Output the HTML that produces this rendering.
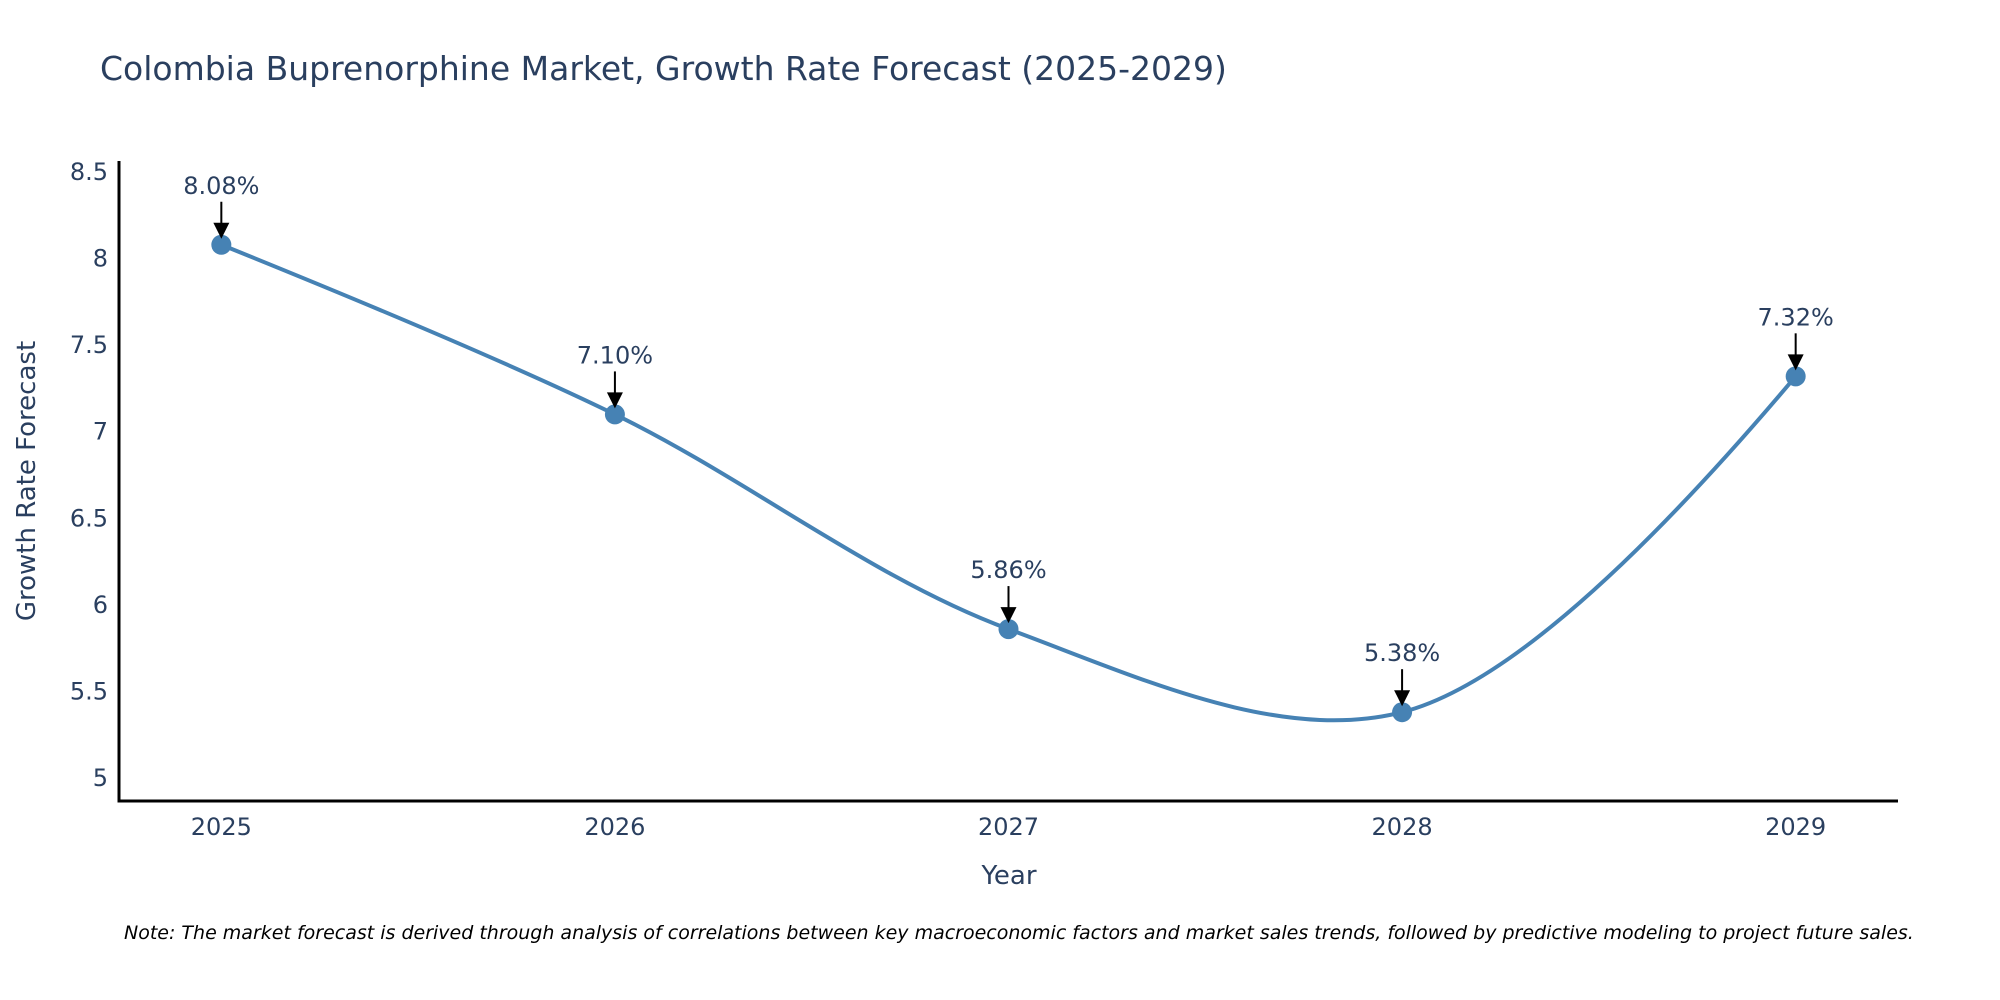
<!DOCTYPE html>
<html><head><meta charset="utf-8"><style>
html,body{margin:0;padding:0;background:#fff;}
svg{display:block;font-family:"DejaVu Sans","Liberation Sans",sans-serif;}
</style></head><body>
<svg id="chart" width="2000" height="1000" viewBox="0 0 2000 1000" xmlns="http://www.w3.org/2000/svg">
<rect width="2000" height="1000" fill="#fff"/>
<text x="100" y="80" font-size="33" fill="#2a3f5f">Colombia Buprenorphine Market, Growth Rate Forecast (2025-2029)</text>
<g id="yticks"></g><g id="xticks"></g>
<line x1="119" y1="161" x2="119" y2="802" stroke="#000" stroke-width="3"/>
<line x1="117.5" y1="801" x2="1898" y2="801" stroke="#000" stroke-width="3"/>
<text transform="translate(35,481) rotate(-90)" text-anchor="middle" font-size="26" fill="#2a3f5f">Growth Rate Forecast</text>
<text x="1009" y="884" text-anchor="middle" font-size="26" fill="#2a3f5f">Year</text>
<g id="series"></g>
<g id="annotations"></g>
<text x="124" y="939" font-size="19" font-style="italic" fill="#000">Note: The market forecast is derived through analysis of correlations between key macroeconomic factors and market sales trends, followed by predictive modeling to project future sales.</text>
</svg>
<script>
const years = [2025, 2026, 2027, 2028, 2029];
const growth = [8.08, 7.10, 5.86, 5.38, 7.32];
const yTicks = [5, 5.5, 6, 6.5, 7, 7.5, 8, 8.5];
const yTickLabels = ["5", "5.5", "6", "6.5", "7", "7.5", "8", "8.5"];

const NS = "http://www.w3.org/2000/svg";
const X0 = 119, X1 = 1898, XMIN = 2024.74, XMAX = 2029.26;
const Y0 = 801, Y1 = 162, YMIN = 4.867, YMAX = 8.558;
function xs(v){return X0 + (v - XMIN) / (XMAX - XMIN) * (X1 - X0);}
function ys(v){return Y0 - (v - YMIN) / (YMAX - YMIN) * (Y0 - Y1);}
function mk(tag, attrs, parent){const e=document.createElementNS(NS,tag);for(const k in attrs)e.setAttribute(k,attrs[k]);parent.appendChild(e);return e;}

const yg = document.getElementById('yticks');
yTicks.forEach((t,i)=>{
  const el = mk('text',{x:108,y:ys(t)+8,'text-anchor':'end','font-size':24,fill:'#2a3f5f'},yg);
  
  
  el.textContent = yTickLabels[i];
});
const xg = document.getElementById('xticks');
years.forEach(y=>{
  const el = mk('text',{x:xs(y),y:835,'text-anchor':'middle','font-size':24,fill:'#2a3f5f'},xg);
  
  
  el.textContent = String(y);
});

const pts = years.map((y,i)=>[xs(y), ys(growth[i])]);
function tangent(p0,p1,p2,s){
  const d1x=p0[0]-p1[0], d1y=p0[1]-p1[1], d2x=p2[0]-p1[0], d2y=p2[1]-p1[1];
  const d1a=Math.pow(d1x*d1x+d1y*d1y,0.25), d2a=Math.pow(d2x*d2x+d2y*d2y,0.25);
  const nx=(d2a*d2a*d1x-d1a*d1a*d2x)*s, ny=(d2a*d2a*d1y-d1a*d1a*d2y)*s;
  const den1=3*d2a*(d1a+d2a), den2=3*d1a*(d1a+d2a);
  return [[p1[0]+nx/den1,p1[1]+ny/den1],[p1[0]-nx/den2,p1[1]-ny/den2]];
}
const tg=[];
for(let i=1;i<pts.length-1;i++) tg.push(tangent(pts[i-1],pts[i],pts[i+1],1));
let d='M'+pts[0]+'Q'+tg[0][0]+' '+pts[1];
for(let i=2;i<pts.length-1;i++) d+='C'+tg[i-2][1]+' '+tg[i-1][0]+' '+pts[i];
d+='Q'+tg[tg.length-1][1]+' '+pts[pts.length-1];
const sg=document.getElementById('series');
const line = mk('path',{d:d,fill:'none',stroke:'#4682b4','stroke-width':4},sg);


pts.forEach(p=>{
  const c = mk('circle',{cx:p[0],cy:p[1],r:10,fill:'#4682b4'},sg);
  
  
});

const ag=document.getElementById('annotations');
pts.forEach((p,i)=>{
  const a = mk('line',{x1:p[0],y1:p[1]-43,x2:p[0],y2:p[1]-18,stroke:'#000','stroke-width':2},ag);
  
  
  const h = mk('polygon',{points:`${p[0]-8},${p[1]-22} ${p[0]+8},${p[1]-22} ${p[0]},${p[1]-6}`,fill:'#000'},ag);
  
  
  const t = mk('text',{x:p[0],y:p[1]-51,'text-anchor':'middle','font-size':24,fill:'#2a3f5f'},ag);
  
  
  t.textContent = growth[i].toFixed(2)+'%';
});
</script>
</body></html>
